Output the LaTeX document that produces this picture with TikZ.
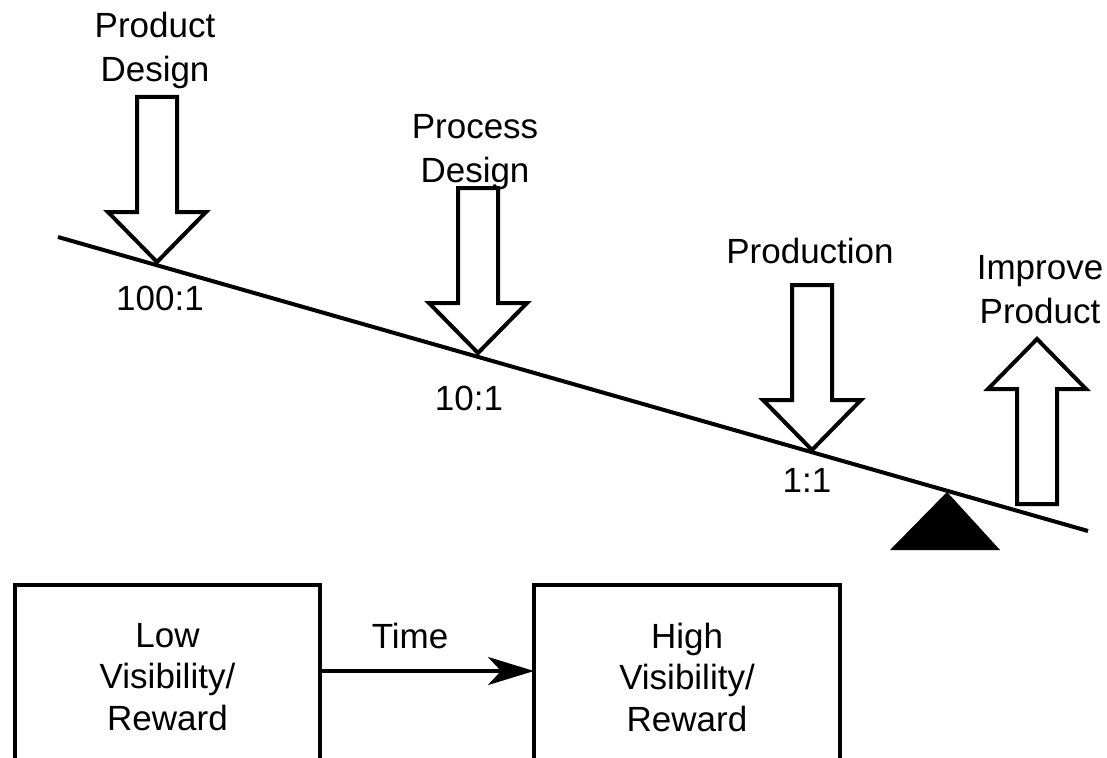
\documentclass[tikz,border=0pt]{standalone}
\usepackage{fontspec}
\setmainfont{Liberation Sans}
\usetikzlibrary{arrows.meta}
\tikzset{
  lbl/.style={font=\fontsize{35}{44}\selectfont, align=center, inner sep=0pt, anchor=base},
  blockline/.style={draw=black, fill=white, line width=4pt, line join=miter},
  boxnode/.style={draw=black, line width=4pt, inner sep=0pt, outer sep=0pt, align=center,
    font=\fontsize{35}{41.5}\selectfont},
  timearrow/.style={line width=4pt, -{Stealth[length=46pt, width=28pt, inset=13pt]}},
  beam/.style={line width=4pt},
  pics/blockarrow/.style={code={
    \draw[blockline] (0,0) -- (-49,-50) -- (-20,-50) -- (-20,-165) -- (20,-165) -- (20,-50) -- (49,-50) -- cycle;
  }}
}
\begin{document}
\begin{tikzpicture}[x=1pt, y=-1pt]
\useasboundingbox (0,0) rectangle (1107,757);
\clip (0,0) rectangle (1107,757);

% beam and fulcrum
\coordinate (beamL) at (58,237);
\coordinate (beamR) at (1088,531);
\draw[beam] (beamL) -- (beamR);
\fill[black] (890,550) -- (947,492) -- (1000,550) -- cycle;

% block arrows
\pic at (157,262) {blockarrow};
\pic at (478,353) {blockarrow};
\pic at (812,450) {blockarrow};
\pic[rotate=180] at (1037,339) {blockarrow};

% labels (anchor = baseline of the last line)
\node[lbl] (pd)   at (155,82)  {Product\\Design};
\node[lbl] (prd)  at (475,182) {Process\\Design};
\node[lbl] (prod) at (810,263) {Production};
\node[lbl] (imp)  at (1040,323) {Improve\\Product};
\node[lbl] (r100) at (160,310) {100:1};
\node[lbl] (r10)  at (469,410) {10:1};
\node[lbl] (r1)   at (807,492) {1:1};

% bottom boxes
\node[boxnode, minimum width=305pt, minimum height=184pt] (low)  at (167.5,677) {Low\\Visibility/\\Reward};
\node[boxnode, minimum width=306pt, minimum height=184pt] (high) at (687,677) {High\\Visibility/\\Reward};
\draw[timearrow] ([yshift=6pt]low.east) -- ([yshift=6pt]high.west);
\node[lbl] (time) at (410,648) {Time};
\end{tikzpicture}
\end{document}
